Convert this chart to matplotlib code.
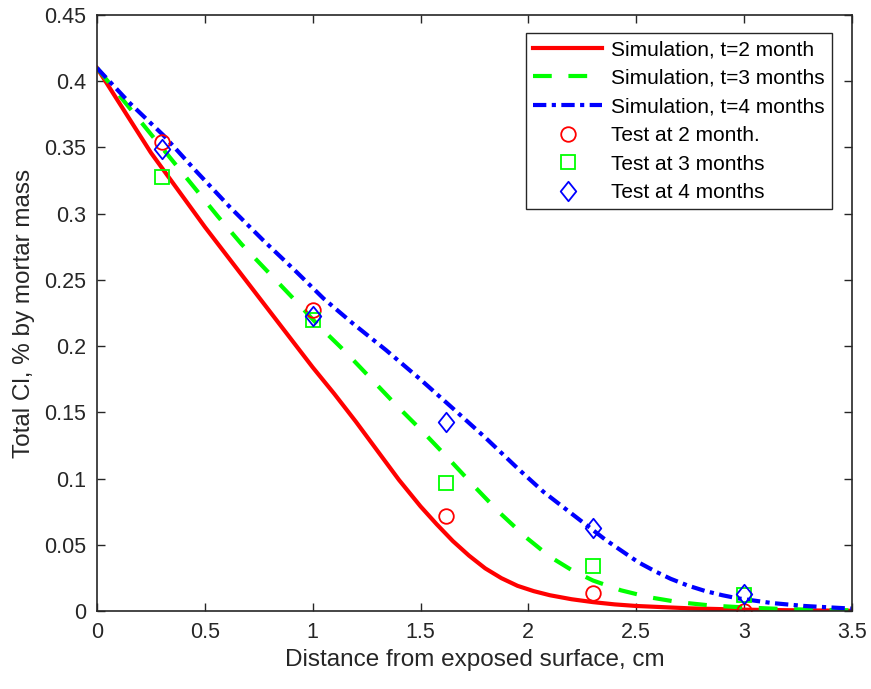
import matplotlib
matplotlib.use("Agg")
import matplotlib.pyplot as plt
from matplotlib.path import Path

# Simulation curves
x_sim2 = [0, 0.25, 0.5, 0.75, 1.0, 1.1, 1.2, 1.3, 1.4, 1.5, 1.575, 1.65, 1.725, 1.8, 1.875, 1.95, 2.025, 2.1,
          2.2, 2.3, 2.4, 2.5, 2.75, 3.0, 3.25, 3.5]
y_sim2 = [0.41, 0.346, 0.29, 0.237, 0.184, 0.164, 0.143, 0.121, 0.099, 0.079, 0.0655, 0.0528, 0.0418, 0.0322,
          0.0248, 0.019, 0.015, 0.0119, 0.0089, 0.0067, 0.005, 0.0038, 0.002, 0.001, 0.0005, 0.0002]

x_sim3 = [0, 0.11, 0.35, 0.56, 0.67, 0.91, 1.03, 1.15, 1.27, 1.39, 1.51, 1.63, 1.75, 1.865, 1.99, 2.1, 2.2,
          2.3, 2.43, 2.56, 2.7, 2.85, 3.0, 3.15, 3.3, 3.5]
y_sim3 = [0.41, 0.388, 0.340, 0.298, 0.277, 0.236, 0.215, 0.196, 0.1755, 0.155, 0.1355, 0.115, 0.094, 0.0745,
          0.0555, 0.041, 0.031, 0.023, 0.0156, 0.0104, 0.0066, 0.0041, 0.0027, 0.0017, 0.001, 0.0005]

x_sim4 = [0, 0.155, 0.309, 0.46, 0.616, 0.77, 0.925, 1.05, 1.187, 1.34, 1.495, 1.65, 1.80, 1.955, 2.07, 2.20,
          2.36, 2.51, 2.59, 2.66, 2.74, 2.82, 2.9, 2.97, 3.13, 3.28, 3.5]
y_sim4 = [0.41, 0.383, 0.359, 0.332, 0.305, 0.280, 0.256, 0.236, 0.217, 0.197, 0.1755, 0.153, 0.131, 0.107,
          0.090, 0.0736, 0.0535, 0.0368, 0.0298, 0.0243, 0.0192, 0.0151, 0.0119, 0.0096, 0.006, 0.0038, 0.0018]

# Test data
x_test = [0.3, 1.0, 1.62, 2.3, 3.0]
y_test2 = [0.354, 0.227, 0.0715, 0.0134, 0.0]
y_test3 = [0.328, 0.2196, 0.097, 0.034, 0.012]
y_test4 = [0.349, 0.223, 0.143, 0.063, 0.013]

xticks = [0, 0.5, 1, 1.5, 2, 2.5, 3, 3.5]
yticks = [0, 0.05, 0.1, 0.15, 0.2, 0.25, 0.3, 0.35, 0.4, 0.45]
xticklabels = ["0", "0.5", "1", "1.5", "2", "2.5", "3", "3.5"]
yticklabels = ["0", "0.05", "0.1", "0.15", "0.2", "0.25", "0.3", "0.35", "0.4", "0.45"]

plt.rcParams['font.family'] = ['Liberation Sans', 'DejaVu Sans']
axc = (0.15, 0.15, 0.15)

fig = plt.figure(figsize=(8.71, 6.89), dpi=100)
ax = fig.add_axes([0.1114, 0.1132, 0.8666, 0.8650])

diamond = Path([(-0.4, 0), (0, 0.5), (0.4, 0), (0, -0.5), (-0.4, 0)],
               [Path.MOVETO, Path.LINETO, Path.LINETO, Path.LINETO, Path.CLOSEPOLY])

lw = 3.0
ax.plot(x_sim2, y_sim2, color=(1, 0, 0), lw=lw, ls='-', label='Simulation, t=2 month')
ax.plot(x_sim3, y_sim3, color=(0, 1, 0), lw=lw, ls=(0, (4.5, 4)), label='Simulation, t=3 months')
ax.plot(x_sim4, y_sim4, color=(0, 0, 1), lw=lw, ls=(0, (3.2, 1.3, 1.0, 1.3)), label='Simulation, t=4 months')
ax.plot(x_test, y_test2, ls='none', marker='o', ms=10.5, mfc='none', mec=(1, 0, 0), mew=1.3, label='Test at 2 month.')
ax.plot(x_test, y_test3, ls='none', marker='s', ms=9.5, mfc='none', mec=(0, 1, 0), mew=1.3, label='Test at 3 months')
ax.plot(x_test, y_test4, ls='none', marker=diamond, ms=14, mfc='none', mec=(0, 0, 1), mew=1.3, label='Test at 4 months')

ax.set_xlim(0, 3.5)
ax.set_ylim(0, 0.45)
ax.set_xticks(xticks)
ax.set_xticklabels(xticklabels)
ax.set_yticks(yticks)
ax.set_yticklabels(yticklabels)
ax.tick_params(direction='in', length=6, width=1, colors=axc, labelsize=15.5, top=True, right=True,
               labeltop=False, labelright=False, pad=8)
for s in ax.spines.values():
    s.set_color(axc)
    s.set_linewidth(1.2)

ax.set_xlabel('Distance from exposed surface, cm', fontsize=17.5, color=axc, labelpad=4)
ax.set_ylabel('Total Cl, % by mortar mass', fontsize=17.5, color=axc, labelpad=6)

leg = ax.legend(loc='upper right', bbox_to_anchor=(0.974, 0.97), fontsize=15, frameon=True, fancybox=False,
                edgecolor=axc, framealpha=1, handlelength=3.3, borderpad=0.35, labelspacing=0.46,
                handletextpad=0.45, borderaxespad=0)
leg.get_frame().set_linewidth(1.0)

fig.savefig('out.png', dpi=100)
